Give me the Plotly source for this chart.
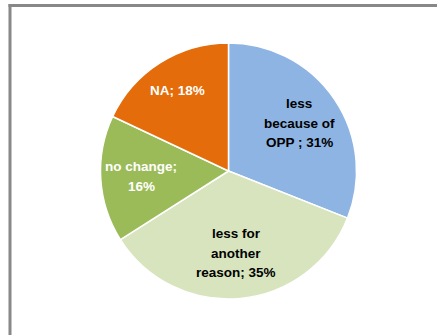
import math
import plotly.graph_objects as go

categories = ["less because of OPP", "less for another reason", "no change", "NA"]
values = [31, 35, 16, 18]
label_lines = [["less", "because of", "OPP ; 31%"],
               ["less for", "another", "reason; 35%"],
               ["no change;", "16%"],
               ["NA; 18%"]]

colors = ["#8EB4E3", "#D7E4BD", "#9BBB59", "#E46C0A"]
text_colors = ["#000000", "#000000", "#FFFFFF", "#FFFFFF"]
label_r = [0.666, 0.647, 0.684, 0.745]
line_gap = 19.5

W, H = 437, 335
cx, cy, R = 228.5, 171.0, 128.0

fig = go.Figure(go.Pie(
    labels=categories, values=values, sort=False, direction="clockwise",
    marker=dict(colors=colors, line=dict(color="white", width=1.5)),
    textinfo="none", hoverinfo="label+percent", showlegend=False,
    domain=dict(x=[(cx - R) / W, (cx + R) / W], y=[1 - (cy + R) / H, 1 - (cy - R) / H]),
))

total = sum(values)
cum = 0
for v, lines, tc, rf in zip(values, label_lines, text_colors, label_r):
    mid = (cum + v / 2) / total * 2 * math.pi
    cum += v
    px = cx + rf * R * math.sin(mid)
    py = cy - rf * R * math.cos(mid)
    n = len(lines)
    for i, ln in enumerate(lines):
        ly = py + (i - (n - 1) / 2) * line_gap
        fig.add_annotation(x=px / W, y=1 - ly / H, xref="paper", yref="paper",
                           xanchor="center", yanchor="middle",
                           text=ln, showarrow=False, align="center",
                           font=dict(family="Liberation Sans", size=13.5, color=tc, weight="bold"))

# frame lines
fig.add_shape(type="line", xref="paper", yref="paper",
              x0=8.5 / W, x1=1.02, y0=1 - 5.5 / H, y1=1 - 5.5 / H,
              line=dict(color="#888888", width=3))
fig.add_shape(type="line", xref="paper", yref="paper",
              x0=10 / W, x1=10 / W, y0=1 - 4 / H, y1=-0.02,
              line=dict(color="#888888", width=3))

fig.update_layout(width=W, height=H, margin=dict(l=0, r=0, t=0, b=0),
                  paper_bgcolor="white", plot_bgcolor="white")
fig.write_html("out.html", config={"displayModeBar": False},
               post_script="document.body.style.margin='0';document.body.style.overflow='hidden';")
